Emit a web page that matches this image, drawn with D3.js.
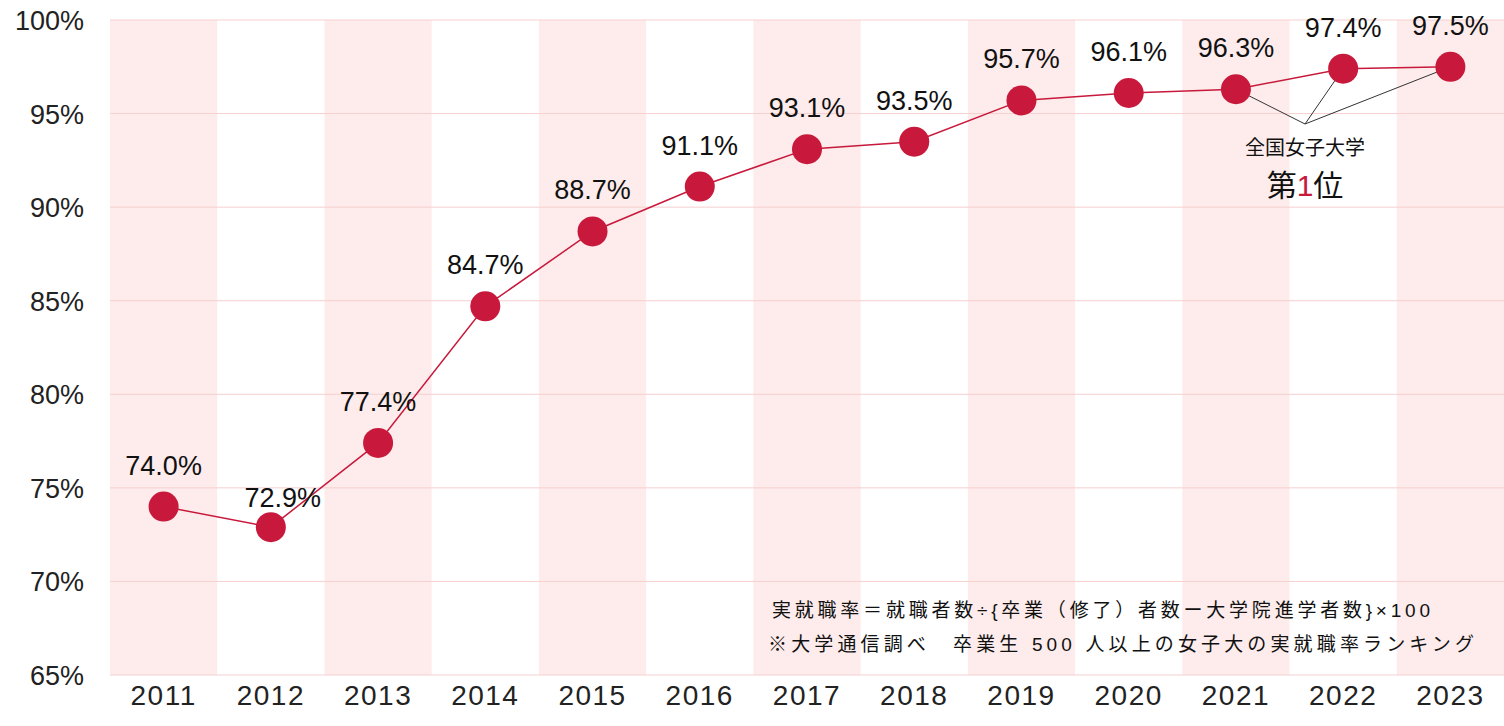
<!DOCTYPE html><html><head><meta charset="utf-8"><script src="https://cdn.jsdelivr.net/npm/d3@7"></script>
<style>body{margin:0;background:#fff}text{font-family:"Liberation Sans","Noto Sans CJK JP",sans-serif}</style></head><body>
<svg id="c" width="1504" height="726"></svg>
<script>
const years=["2011","2012","2013","2014","2015","2016","2017","2018","2019","2020","2021","2022","2023"];
const rates=[74.0,72.9,77.4,84.7,88.7,91.1,93.1,93.5,95.7,96.1,96.3,97.4,97.5];
const yTicks=[65,70,75,80,85,90,95,100];
const svg=d3.select("#c");
const x=d3.scaleBand().domain(years).range([110,1504]);
const y=d3.scaleLinear().domain([65,100]).range([675,20]);
const red="#c8193c";
svg.selectAll(".band").data(years.filter((d,i)=>i%2==0)).join("rect")
 .attr("x",d=>x(d)).attr("y",y(100)).attr("width",x.bandwidth()).attr("height",y(65)-y(100)).attr("fill","#fdeceb");
svg.selectAll(".g").data(yTicks).join("line").attr("x1",110).attr("x2",1504)
 .attr("y1",d=>y(d)).attr("y2",d=>y(d)).attr("stroke","#f6cfcf").attr("stroke-width",1);
svg.selectAll(".yl").data(yTicks).join("text").attr("x",84).attr("y",d=>y(d)+10).attr("text-anchor","end")
 .attr("font-size",27).attr("fill","#222").text(d=>d+"%");
svg.selectAll(".xl").data(years).join("text").attr("x",d=>x(d)+x.bandwidth()/2).attr("y",705).attr("text-anchor","middle")
 .attr("font-size",28).attr("letter-spacing",1.5).attr("fill","#222").text(d=>d);
const cx=d=>x(d)+x.bandwidth()/2;
const ap=[1305,124];
[10,11,12].forEach(i=>svg.append("line").attr("x1",cx(years[i])).attr("y1",y(rates[i])).attr("x2",ap[0]).attr("y2",ap[1]).attr("stroke","#333").attr("stroke-width",1));
svg.append("path").datum(rates).attr("fill","none").attr("stroke",red).attr("stroke-width",1.5)
 .attr("d",d3.line().x((d,i)=>cx(years[i])).y(d=>y(d)));
svg.selectAll(".dot").data(rates).join("circle").attr("cx",(d,i)=>cx(years[i])).attr("cy",d=>y(d)).attr("r",15).attr("fill",red);
svg.selectAll(".vl").data(rates).join("text").attr("x",(d,i)=>cx(years[i])+(i==1?12:0)).attr("y",(d,i)=>i==1?y(d)-20:y(d)-32)
 .attr("text-anchor","middle").attr("font-size",27).attr("fill","#111").text(d=>d.toFixed(1)+"%");
svg.append("text").attr("x",1305).attr("y",155).attr("text-anchor","middle").attr("font-size",20).attr("fill","#111").text("全国女子大学");
const t=svg.append("text").attr("x",1305).attr("y",196).attr("text-anchor","middle").attr("font-size",30).attr("fill","#111");
t.append("tspan").text("第");t.append("tspan").attr("fill",red).text("1");t.append("tspan").text("位");
svg.append("text").attr("x",772).attr("y",617).attr("font-size",19).attr("textLength",658).attr("lengthAdjust","spacing").attr("fill","#111").text("実就職率＝就職者数÷{卒業（修了）者数ー大学院進学者数}×100");
svg.append("text").attr("x",768).attr("y",651).attr("font-size",19).attr("textLength",706).attr("lengthAdjust","spacing").attr("fill","#111").text("※大学通信調べ　卒業生 500 人以上の女子大の実就職率ランキング");
</script></body></html>
